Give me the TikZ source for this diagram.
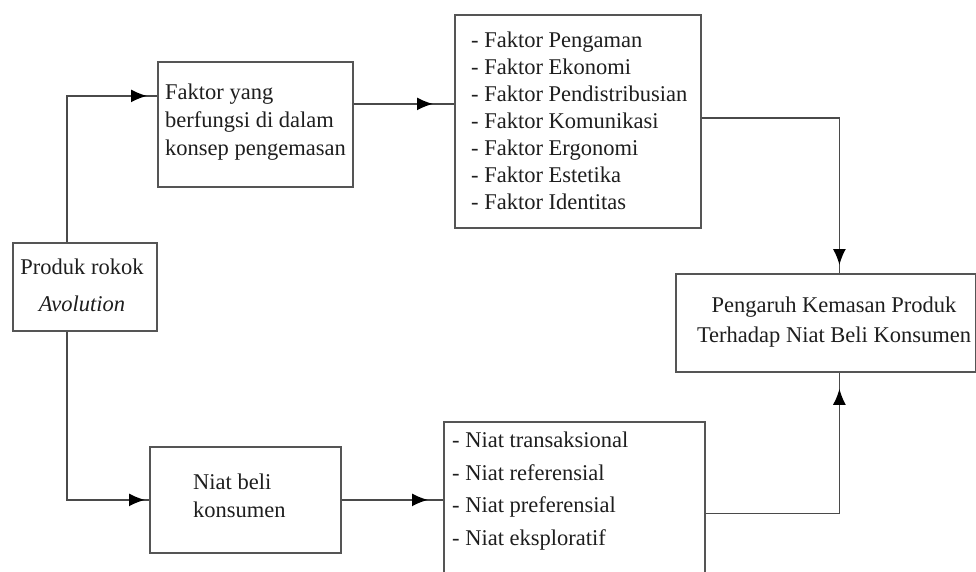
\documentclass[tikz,border=0pt]{standalone}
\usepackage{fontspec}
\setmainfont{Liberation Serif}
\usetikzlibrary{arrows.meta}
\definecolor{boxc}{HTML}{555555}
\definecolor{linec}{HTML}{4A4A4A}
\definecolor{txtc}{HTML}{1E1E1E}
\begin{document}
\begin{tikzpicture}[x=1pt,y=-1pt,
  box/.style={draw=boxc, line width=1.8pt, inner sep=0pt, anchor=north west},
  txt/.style={text=txtc, inner sep=0pt, font=\fontsize{22.5}{27}\selectfont},
  conn/.style={draw=linec, line width=1.7pt},
  arr/.style={draw=linec, line width=1.7pt, -{Latex[length=16pt,width=13pt,color=black]}}
]
\fill[white] (0,0) rectangle (976,572);
\useasboundingbox (0,0) rectangle (976,572);

% boxes
\node[box, minimum width=144pt, minimum height=88pt]  (prod) at (12,242) {};
\node[box, minimum width=195pt, minimum height=125pt] (f1)   at (157,61) {};
\node[box, minimum width=246pt, minimum height=213pt] (f2)   at (454,14) {};
\node[box, minimum width=300pt, minimum height=98pt]  (peng) at (675,273) {};
\node[box, minimum width=191pt, minimum height=106pt] (nb)   at (149,446) {};
\node[box, minimum width=261pt, minimum height=170pt] (nl)   at (443,421) {};

% texts
\node[txt, anchor=north, align=center, font=\fontsize{22.5}{37}\selectfont] (tprod) at (82,258.6)
  {Produk rokok\\\textit{Avolution}};
\node[txt, anchor=north west, align=left, font=\fontsize{22.5}{28}\selectfont] (tf1) at (165,83.6)
  {Faktor yang\\berfungsi di dalam\\konsep pengemasan};
\node[txt, anchor=north west, align=left] (tf2) at (471,31.6)
  {- Faktor Pengaman\\- Faktor Ekonomi\\- Faktor Pendistribusian\\- Faktor Komunikasi\\- Faktor Ergonomi\\- Faktor Estetika\\- Faktor Identitas};
\node[txt, anchor=north, align=center, font=\fontsize{22.5}{30.5}\selectfont] (tpeng) at (834,296.6)
  {Pengaruh Kemasan Produk\\Terhadap Niat Beli Konsumen};
\node[txt, anchor=north west, align=left, font=\fontsize{22.5}{28}\selectfont] (tnb) at (193,473.6)
  {Niat beli\\konsumen};
\node[txt, anchor=north west, align=left, font=\fontsize{22.5}{32.7}\selectfont] (tnl) at (452,431.6)
  {- Niat transaksional\\- Niat referensial\\- Niat preferensial\\- Niat eksploratif};

% connectors
\draw[conn] ([xshift=-18pt]prod.north) |- ([yshift=28.5pt]f1.west);
\draw[arr, shorten >=10pt] ([xshift=-18pt]prod.north) |- ([yshift=28.5pt]f1.west);

\draw[conn] ([yshift=20.5pt]f1.east) -- ([yshift=20.5pt]f1.east -| f2.west);
\draw[arr, shorten >=21pt] ([yshift=20.5pt]f1.east) -- ([yshift=20.5pt]f1.east -| f2.west);

\draw[conn] ([yshift=3.5pt]f2.east) -| ([xshift=13.5pt]peng.north);
\draw[arr, shorten >=8pt] ([yshift=3.5pt]f2.east) -| ([xshift=13.5pt]peng.north);

\draw[conn] ([xshift=-18pt]prod.south) |- (nb.west);
\draw[arr, shorten >=4pt] ([xshift=-18pt]prod.south) |- (nb.west);

\draw[conn] (nb.east) -- (nb.east -| nl.west);
\draw[arr, shorten >=15pt] (nb.east) -- (nb.east -| nl.west);

\draw[conn] ([yshift=-6.5pt]nl.east) -| ([xshift=13.5pt]peng.south);
\draw[arr, shorten >=16pt] ([yshift=-6.5pt]nl.east) -| ([xshift=13.5pt]peng.south);
\end{tikzpicture}
\end{document}
